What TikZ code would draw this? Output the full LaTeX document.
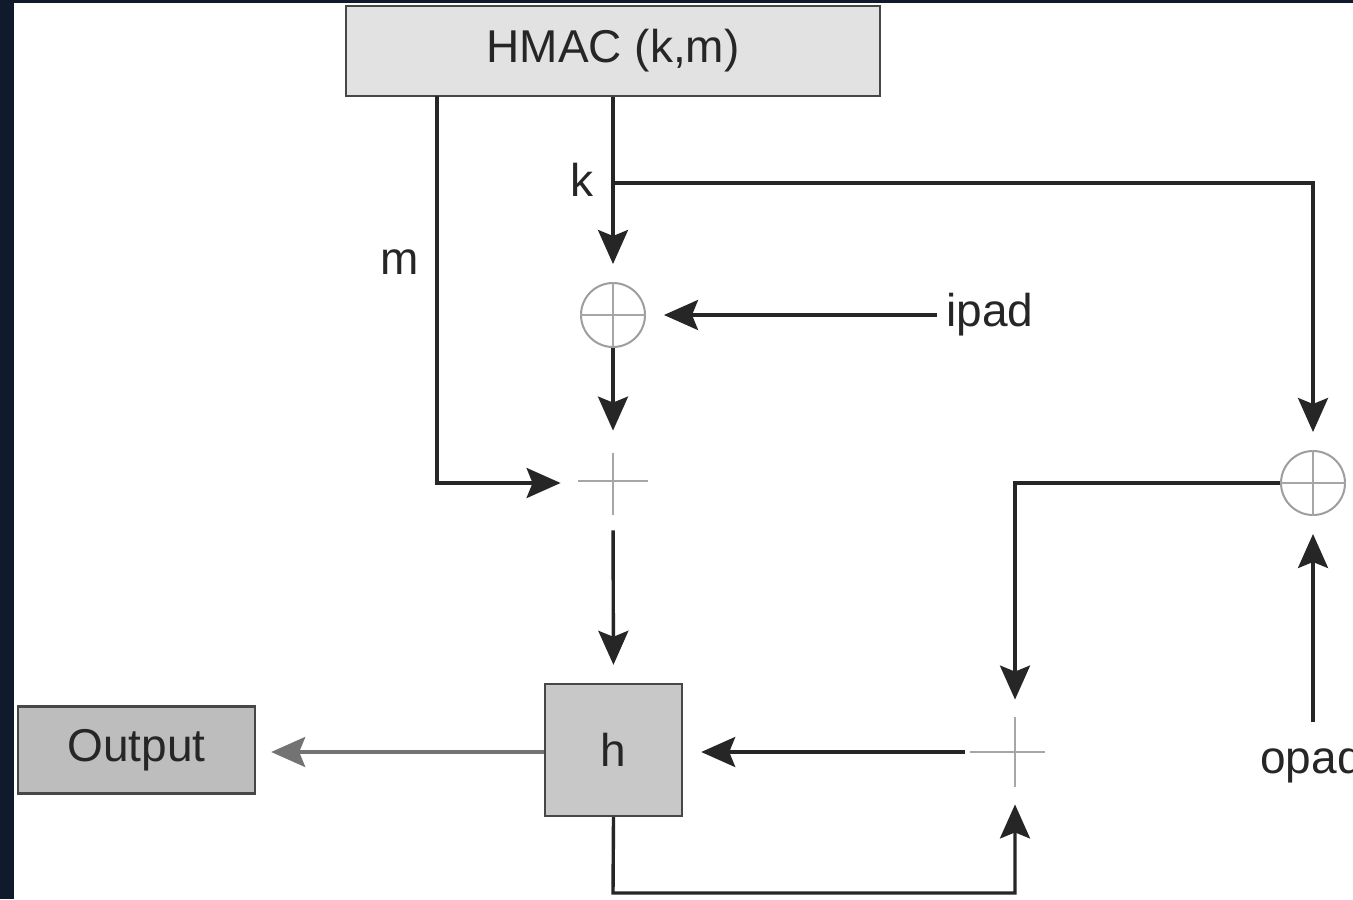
\documentclass[tikz,border=0pt]{standalone}
\usepackage{fontspec}
\setmainfont{Liberation Sans}
\usetikzlibrary{arrows.meta,calc}
\definecolor{navy}{HTML}{0F1B2D}
\definecolor{ink}{HTML}{262626}
\definecolor{boxA}{HTML}{E2E2E2}
\definecolor{boxB}{HTML}{C8C8C8}
\definecolor{boxC}{HTML}{BDBDBD}
\begin{document}
\begin{tikzpicture}[x=0.5pt,y=-0.5pt,
  lab/.style={font=\fontsize{23}{27}\selectfont, text=ink, inner sep=4.5pt},
  blk/.style={draw=ink!85, line width=1.2pt, inner sep=0pt, font=\fontsize{23}{27}\selectfont, text=ink},
  xorc/.style={circle, draw=black!38, line width=1pt, minimum size=32pt, inner sep=0pt},
  junc/.style={circle, minimum size=34pt, inner sep=0pt},
  conn/.style={draw=ink, line width=1.7pt},
  arr/.style={conn, -{Stealth[length=17pt,width=15pt,inset=3pt]}, shorten >=9pt},
  thin/.style={draw=black!35, line width=0.8pt}]
\useasboundingbox (0,0) rectangle (1353,899);
\clip (0,0) rectangle (1353,899);
\fill[navy] (0,0) rectangle (1353,899);
\fill[white] (14,3) rectangle (1353,899);

% nodes
\node[blk, fill=boxA, minimum width=267pt, minimum height=45pt] (hmac) at (613,51) {HMAC (k,m)};
\node[xorc] (x1) at (613,315) {};
\node[junc] (j1) at (613,483) {};
\node[blk, fill=boxB, minimum width=68.5pt, minimum height=66pt] (h) at (613.5,750) {h};
\node[blk, fill=boxC, minimum width=118.5pt, minimum height=43.5pt] (out) at (136.5,750) {Output};
\node[xorc] (x2) at (1313,483) {};
\node[junc] (j2) at (1015,752) {};
\node[lab, anchor=west] (ipad) at (937,315) {ipad};
\node[lab, anchor=west] (opad) at (1251,762) {opad};
\node[lab] (klab) at (582,180) {k};
\node[lab] (mlab) at (400,262) {m};
\coordinate (mx) at (437,96);
\coordinate (kb) at (613,183);
\coordinate (hb) at (613,893);
\coordinate (op) at (1313,722);

% xor crosses
\draw[thin] (x1.north) -- (x1.south) (x1.west) -- (x1.east);
\draw[thin] (x2.north) -- (x2.south) (x2.west) -- (x2.east);
% junction crosses
\draw[thin] ($(j1)+(-35,-2)$) -- ($(j1)+(35,-2)$) ($(j1)+(0,-30)$) -- ($(j1)+(0,32)$);
\draw[thin] ($(j2)+(-45,0)$) -- ($(j2)+(30,0)$) ($(j2)+(0,-35)$) -- ($(j2)+(0,35)$);

% connectors
\draw[arr] (hmac.south) -- (x1.north);
\draw[arr] (kb) -| (x2.north);
\draw[arr] (mx) |- (j1.west);
\draw[arr] (ipad.west) -- (x1.east);
\draw[arr] (x1.south) -- (j1.north);
\draw[arr, shorten <=6.5pt] (j1.south) -- (h.north);
\draw[arr] (x2.west) -| (j2.north);
\draw[arr] (op) -- (x2.south);
\draw[arr, shorten <=8pt] (j2.west) -- (j2.west -| h.east);
\draw[arr, draw=black!55, shorten >=7.5pt] (h.west |- j2) -- (out.east |- j2);
\draw[arr] (h.south) -- (hb) -| (j2.south);
\end{tikzpicture}
\end{document}
